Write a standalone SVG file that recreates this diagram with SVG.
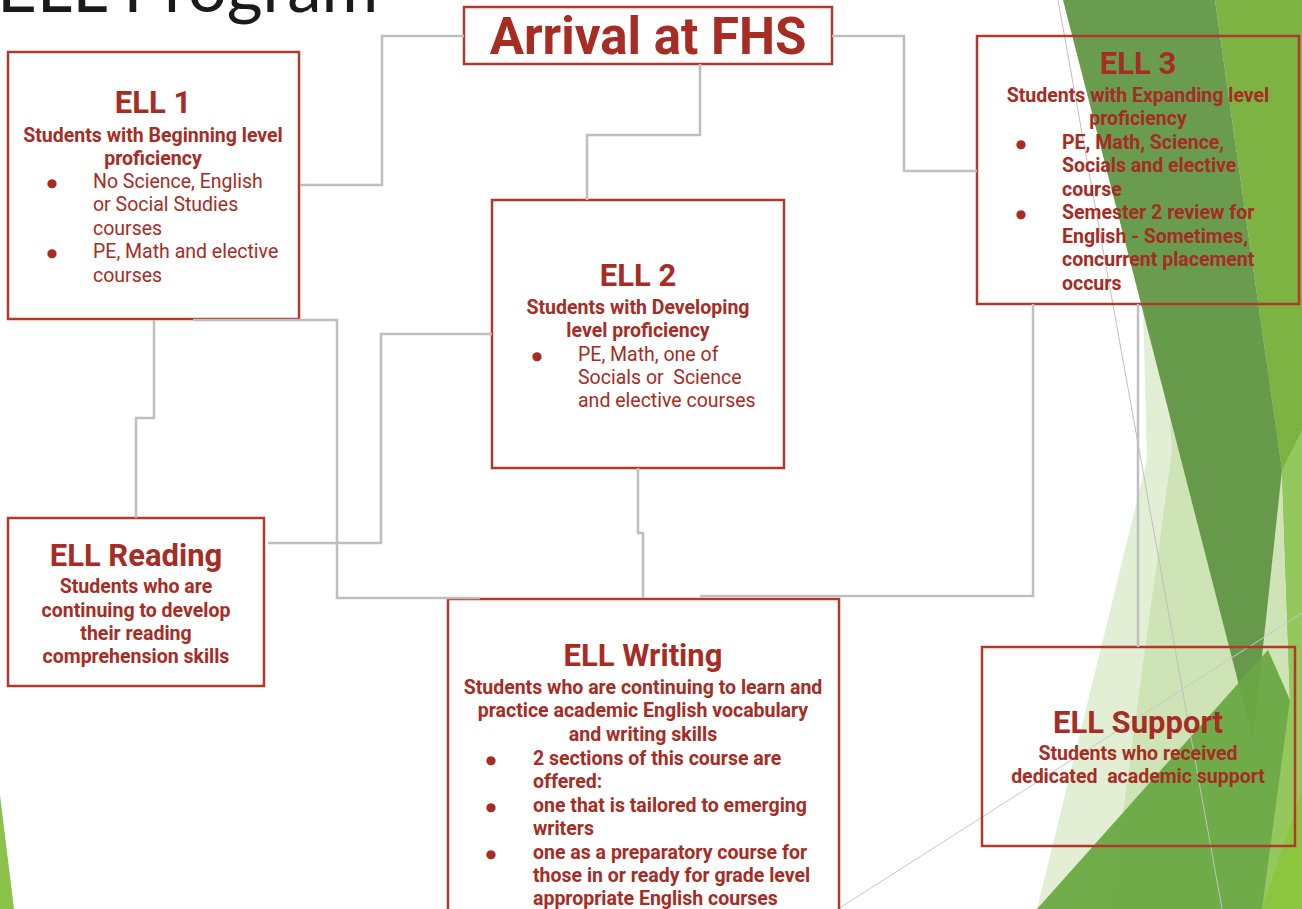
<svg xmlns="http://www.w3.org/2000/svg" width="1302" height="909" viewBox="0 0 1302 909">
<style>
.box{fill:none;stroke:#b0382d;stroke-width:2.5}
.conn{fill:none;stroke:#bfbfbf;stroke-width:2.5}
.t{font-family:Roboto,"Liberation Sans",sans-serif;fill:#a62c24}
.h{font-size:31px;font-weight:bold;text-anchor:middle}
.s{font-size:19.5px;font-weight:bold;text-anchor:middle}
.b{font-size:19.5px}
.bb{font-size:19.5px;font-weight:bold}
.dot{font-family:"DejaVu Sans",sans-serif;font-size:12px;fill:#a62c24;text-anchor:middle}
</style>
<rect width="1302" height="909" fill="#ffffff"/>
<g id="background">
<polygon points="1143,305 1147,460 1037,909 1302,909 1302,305" fill="#e2efd5"/>
<polygon points="1165,360 1172,450 1110,909 1302,909 1302,360" fill="#c9e1ae" opacity="0.8"/>
<polygon points="1215,0 1302,0 1302,909 1262,909 1290,700 1282,470" fill="#7cb342"/>
<polygon points="1282,470 1302,430 1302,909 1262,909 1290,700" fill="#95c85c"/>
<polygon points="1063,0 1215,0 1282,470 1253,740" fill="#5e9442" opacity="0.93"/>
<polygon points="1037,909 1268,650 1290,700 1262,909" fill="#6aa843" opacity="0.95"/>
<polygon points="1262,909 1302,790 1302,909" fill="#8cc63f"/>
<polygon points="0,795 14,909 0,909" fill="#8bc34a"/>
<line x1="1058" y1="0" x2="1222" y2="909" stroke="#c0c0c0" stroke-width="1"/>
<line x1="838" y1="909" x2="1302" y2="613" stroke="#c8c8c8" stroke-width="1"/>
<text x="-3" y="12" font-family="Lato,'Open Sans',sans-serif" font-size="69" fill="#1a1a1a">ELL Program</text>
</g>
<g id="arrival">
<rect class="box" x="464" y="7" width="368" height="57"/>
<text class="t" x="648" y="54" font-size="51" font-weight="bold" text-anchor="middle">Arrival at FHS</text>
</g>
<g id="ell1">
<rect class="box" x="8" y="52" width="291" height="267"/>
<text class="t h" x="153" y="113">ELL 1</text>
<text class="t s" x="153" y="142">Students with Beginning level</text>
<text class="t s" x="153" y="165">proficiency</text>
<text class="dot" x="52" y="187">●</text>
<text class="t b" x="93" y="188">No Science, English</text>
<text class="t b" x="93" y="211">or Social Studies</text>
<text class="t b" x="93" y="235">courses</text>
<text class="dot" x="52" y="257">●</text>
<text class="t b" x="93" y="258">PE, Math and elective</text>
<text class="t b" x="93" y="282">courses</text>
</g>
<g id="ell2">
<rect class="box" x="492" y="200" width="292" height="268"/>
<text class="t h" x="638" y="286">ELL 2</text>
<text class="t s" x="638" y="314">Students with Developing</text>
<text class="t s" x="638" y="337">level proficiency</text>
<text class="dot" x="537" y="360">●</text>
<text class="t b" x="578" y="361">PE, Math, one of</text>
<text class="t b" x="578" y="384" xml:space="preserve">Socials or  Science</text>
<text class="t b" x="578" y="407">and elective courses</text>
</g>
<g id="ell3">
<rect class="box" x="977" y="36" width="322" height="268"/>
<text class="t h" x="1138" y="74">ELL 3</text>
<text class="t s" x="1138" y="102">Students with Expanding level</text>
<text class="t s" x="1138" y="125">proficiency</text>
<text class="dot" x="1021" y="148">●</text>
<text class="t bb" x="1062" y="149">PE, Math, Science,</text>
<text class="t bb" x="1062" y="172">Socials and elective</text>
<text class="t bb" x="1062" y="196">course</text>
<text class="dot" x="1021" y="218">●</text>
<text class="t bb" x="1062" y="219">Semester 2 review for</text>
<text class="t bb" x="1062" y="243">English - Sometimes,</text>
<text class="t bb" x="1062" y="266">concurrent placement</text>
<text class="t bb" x="1062" y="290">occurs</text>
</g>
<g id="ell-reading">
<rect class="box" x="8" y="518" width="256" height="168"/>
<text class="t h" x="136" y="566">ELL Reading</text>
<text class="t s" x="136" y="593">Students who are</text>
<text class="t s" x="136" y="617">continuing to develop</text>
<text class="t s" x="136" y="640">their reading</text>
<text class="t s" x="136" y="663">comprehension skills</text>
</g>
<g id="ell-writing">
<rect class="box" x="448" y="599" width="391" height="330"/>
<text class="t h" x="643" y="666">ELL Writing</text>
<text class="t s" x="643" y="694">Students who are continuing to learn and</text>
<text class="t s" x="643" y="717">practice academic English vocabulary</text>
<text class="t s" x="643" y="741">and writing skills</text>
<text class="dot" x="491" y="764">●</text>
<text class="t bb" x="533" y="765">2 sections of this course are</text>
<text class="t bb" x="533" y="788">offered:</text>
<text class="dot" x="491" y="811">●</text>
<text class="t bb" x="533" y="812">one that is tailored to emerging</text>
<text class="t bb" x="533" y="835">writers</text>
<text class="dot" x="491" y="858">●</text>
<text class="t bb" x="533" y="859">one as a preparatory course for</text>
<text class="t bb" x="533" y="882">those in or ready for grade level</text>
<text class="t bb" x="533" y="905">appropriate English courses</text>
</g>
<g id="ell-support">
<rect class="box" x="982" y="647" width="313" height="199"/>
<text class="t h" x="1138" y="733">ELL Support</text>
<text class="t s" x="1138" y="760">Students who received</text>
<text class="t s" x="1138" y="783" xml:space="preserve">dedicated  academic support</text>
</g>
<g id="connectors">
<path class="conn" d="M464,36 H382 V185 H300"/>
<path class="conn" d="M700,64 V135 H587 V200"/>
<path class="conn" d="M832,36 H904 V171 H977"/>
<path class="conn" d="M154,320 V418 H136 V518"/>
<path class="conn" d="M193,320 H337 V598 H480"/>
<path class="conn" d="M268,543 H381 V334 H492"/>
<path class="conn" d="M638,468 V533 H643 V598"/>
<path class="conn" d="M1033,304 V596 H700"/>
<path class="conn" d="M1138,304 V647"/>
</g>
</svg>
